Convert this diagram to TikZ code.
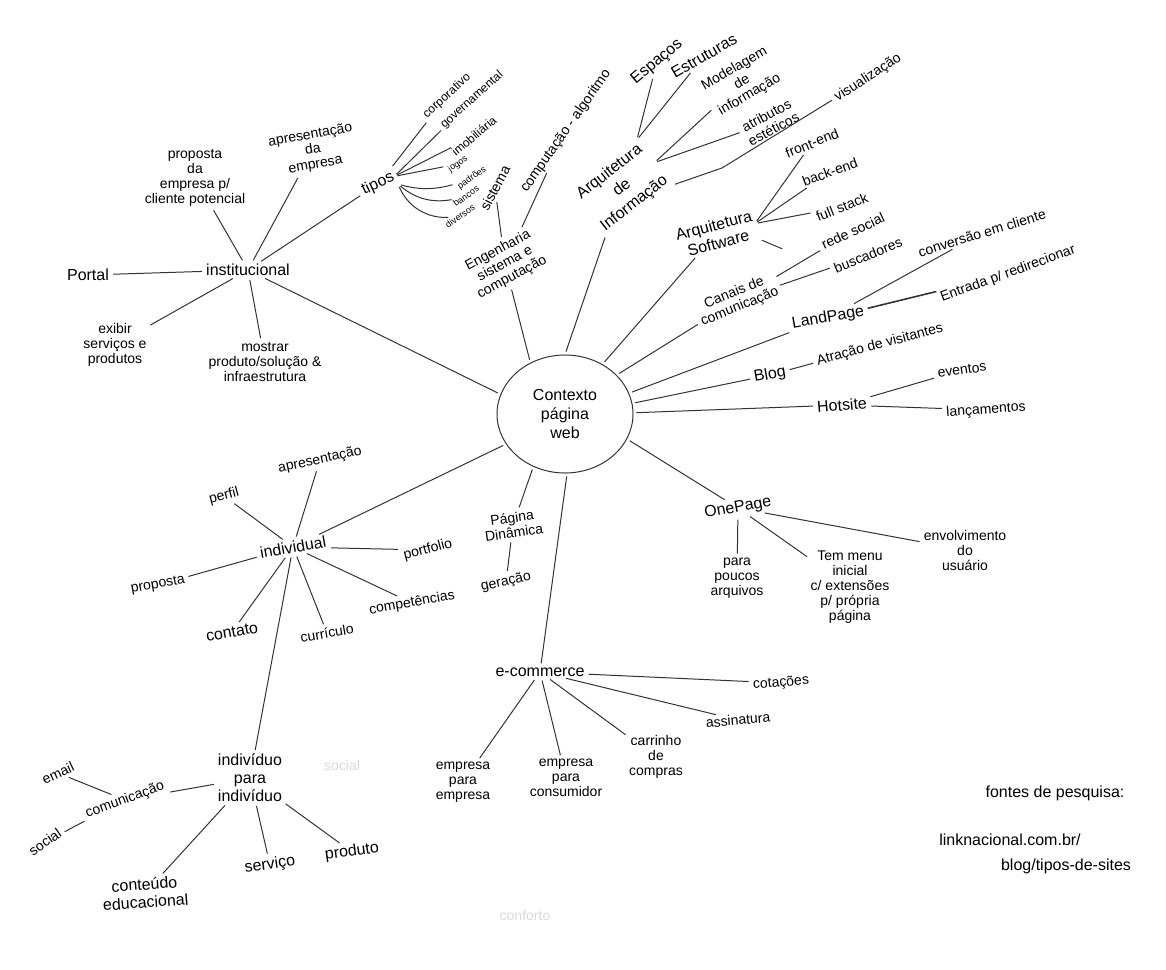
\documentclass[tikz,border=0pt]{standalone}
\usepackage{fontspec}
\setmainfont{Liberation Sans}
\usetikzlibrary{shapes.geometric}

\tikzstyle{centerTopic} = [ellipse, draw=black!80, line width=1pt, minimum width=136pt, minimum height=118pt, align=center, font={\fontsize{16}{19}\selectfont}]
\tikzstyle{topic} = [align=center, inner sep=1pt, font={\fontsize{16}{18}\selectfont}]
\tikzstyle{leaf} = [align=center, inner sep=1pt, font={\fontsize{14}{15}\selectfont}]
\tikzstyle{midLeaf} = [align=center, inner sep=0.5pt, font={\fontsize{12}{13}\selectfont}]
\tikzstyle{tinyLeaf} = [align=center, inner sep=0.5pt, font={\fontsize{9}{10}\selectfont}]
\tikzstyle{erased} = [leaf, text=black!15]
\tikzstyle{handLine} = [draw=black!80, line width=1pt, shorten <=3pt, shorten >=3pt]

\begin{document}
\begin{tikzpicture}[x=1pt,y=-1pt]
\useasboundingbox (0,0) rectangle (1166,969);
            \node[centerTopic] (ctx) at (565,414) {Contexto\\página\\web};
            % institucional
            \node[topic] (inst) at (248,270) {institucional};
            \node[topic] (portal) at (88,275) {Portal};
            \node[leaf] (propEmp) at (195,178) {proposta\\da\\empresa p/\\cliente potencial};
            \node[leaf, rotate=10] (apresEmp) at (313,150) {apresentação\\da\\empresa};
            \node[topic, rotate=25] (tipos) at (378,184) {tipos};
            \node[leaf] (exibir) at (115,345) {exibir\\serviços e\\produtos};
            \node[leaf] (mostrar) at (265,362) {mostrar\\produto/solução \&\\infraestrutura};
            \node[midLeaf, rotate=42] (corp) at (447,96) {corporativo};
            \node[midLeaf, rotate=42] (gov) at (472,100) {governamental};
            \node[midLeaf, rotate=40] (imob) at (474,136) {imobiliária};
            \node[tinyLeaf, rotate=35] (jogos) at (458,164) {jogos};
            \node[tinyLeaf, rotate=35] (padroes) at (472,178) {padrões};
            \node[tinyLeaf, rotate=35] (bancos) at (466,196) {bancos};
            \node[tinyLeaf, rotate=35] (diversos) at (460,216) {diversos};
            % engenharia
            \node[leaf, rotate=28] (eng) at (505,264) {Engenharia\\sistema e\\computação};
            \node[leaf, rotate=62] (sist) at (495,188) {sistema};
            \node[leaf, rotate=55] (compAlg) at (566,131) {computação - algoritmo};
            % arquitetura de informacao
            \node[topic, rotate=38, font={\fontsize{16}{20}\selectfont}] (arqInfo) at (622,188) {Arquitetura\\de\\Informação};
            \node[topic, rotate=40] (espacos) at (657,62) {Espaços};
            \node[topic, rotate=30] (estrut) at (704,56) {Estruturas};
            \node[leaf, rotate=30] (modInfo) at (742,82) {Modelagem\\de\\informação};
            \node[leaf, rotate=28] (atrib) at (770,122) {atributos\\estéticos};
            \node[leaf, rotate=33] (visual) at (868,78) {visualização};
            \coordinate (vBend) at (722,168);
            % arquitetura software
            \node[topic, rotate=15] (arqSw) at (716,234) {Arquitetura\\Software};
            \node[leaf, rotate=22] (front) at (812,143) {front-end};
            \node[leaf, rotate=20] (back) at (830,172) {back-end};
            \node[leaf, rotate=22] (full) at (842,207) {full stack};
            \coordinate (swEnd) at (785,250);
            % comunicacao
            \node[leaf, rotate=22] (canais) at (737,300) {Canais de\\comunicação};
            \node[leaf, rotate=25] (rede) at (853,231) {rede social};
            \node[leaf, rotate=22] (busc) at (868,255) {buscadores};
            % landpage, blog, hotsite
            \node[topic, rotate=10] (land) at (828,318) {LandPage};
            \node[leaf, rotate=17] (conv) at (982,233) {conversão em cliente};
            \node[leaf, rotate=20] (entrada) at (1008,274) {Entrada p/ redirecionar};
            \node[topic, rotate=10] (blog) at (770,375) {Blog};
            \node[leaf, rotate=15] (atracao) at (880,345) {Atração de visitantes};
            \node[topic, rotate=5] (hot) at (842,405) {Hotsite};
            \node[leaf, rotate=8] (eventos) at (962,370) {eventos};
            \node[leaf, rotate=4] (lanc) at (986,410) {lançamentos};
            % onepage
            \node[topic, rotate=10] (one) at (738,508) {OnePage};
            \node[leaf] (poucos) at (737,578) {para\\poucos\\arquivos};
            \node[leaf] (menu) at (850,587) {Tem menu\\inicial\\c/ extensões\\p/ própria\\página};
            \node[leaf] (envolv) at (965,550) {envolvimento\\do\\usuário};
            % e-commerce
            \node[topic] (ecom) at (540,672) {e-commerce};
            \node[leaf] (b2b) at (463,782) {empresa\\para\\empresa};
            \node[leaf] (b2c) at (566,778) {empresa\\para\\consumidor};
            \node[leaf] (carr) at (656,757) {carrinho\\de\\compras};
            \node[leaf, rotate=5] (assin) at (738,720) {assinatura};
            \node[leaf, rotate=5] (cot) at (781,683) {cotações};
            % pagina dinamica
            \node[leaf, rotate=8] (pgDin) at (513,525) {Página\\Dinâmica};
            \node[leaf, rotate=12] (gera) at (506,582) {geração};
            % individual
            \node[topic, rotate=10] (indiv) at (293,547) {individual};
            \node[leaf, rotate=15] (perfil) at (224,496) {perfil};
            \node[leaf, rotate=12] (apres) at (320,460) {apresentação};
            \node[leaf, rotate=10] (prop) at (158,585) {proposta};
            \node[topic, rotate=10] (contato) at (232,632) {contato};
            \node[leaf, rotate=10] (curric) at (327,633) {currículo};
            \node[leaf, rotate=10] (compet) at (412,603) {competências};
            \node[leaf, rotate=15] (portf) at (428,550) {portfolio};
            % individuo para individuo
            \node[topic] (i2i) at (250,778) {indivíduo\\para\\indivíduo};
            \node[leaf, rotate=20] (comun) at (125,800) {comunicação};
            \node[leaf, rotate=25] (email) at (58,773) {email};
            \node[leaf, rotate=35] (social) at (45,842) {social};
            \node[topic, rotate=4] (conteudo) at (145,893) {conteúdo\\educacional};
            \node[topic, rotate=8] (serv) at (270,865) {serviço};
            \node[topic, rotate=8] (prod) at (352,852) {produto};
            \node[erased] (socialOld) at (342,765) {social};
            \node[erased] (confortoOld) at (525,915) {conforto};
            % fontes
            \node[topic] (fontes) at (1055,793) {fontes de pesquisa:};
            \node[topic] (src1) at (1010,840) {linknacional.com.br/};
            \node[topic] (src2) at (1066,866) {blog/tipos-de-sites};

            \draw[handLine] (ctx.163) -- (inst);
            \draw[handLine] (ctx.124) -- (eng);
            \draw[handLine] (ctx.90) -- (arqInfo);
            \draw[handLine] (ctx.53) -- (arqSw);
            \draw[handLine] (ctx.37) -- (canais);
            \draw[handLine] (ctx.18) -- (land);
            \draw[handLine] (ctx.9) -- (blog);
            \draw[handLine] (ctx.1) -- (hot);
            \draw[handLine] (ctx.-22) -- (one);
            \draw[handLine] (ctx.-88) -- (ecom);
            \draw[handLine] (ctx.-121) -- (pgDin);
            \draw[handLine] (ctx.-153) -- (indiv);

            \draw[handLine] (inst) -- (portal);
            \draw[handLine] (inst) -- (propEmp);
            \draw[handLine] (inst) -- (apresEmp);
            \draw[handLine] (inst) -- (tipos);
            \draw[handLine] (inst) -- (exibir);
            \draw[handLine] (inst) -- (mostrar);
            \draw[handLine] (tipos.north east) -- (corp);
            \draw[handLine] (tipos.east) -- (gov);
            \draw[handLine] (tipos.east) -- (imob);
            \draw[handLine] (tipos.east) -- (jogos);
            \draw[handLine] (tipos.south east) to[bend right=15] (padroes);
            \draw[handLine] (tipos.south east) to[bend right=25] (bancos);
            \draw[handLine] (tipos.south east) to[bend right=35] (diversos);

            \draw[handLine] (eng) -- (sist);
            \draw[handLine] (eng) -- (compAlg);

            \draw[handLine] (arqInfo.north east) -- (espacos);
            \draw[handLine] (arqInfo.north east) -- (estrut);
            \draw[handLine] (arqInfo.east) -- (modInfo);
            \draw[handLine] (arqInfo.east) -- (atrib);
            \draw[handLine] (arqInfo.south east) -- (vBend) -- (visual);

            \draw[handLine] (arqSw.east) -- (front);
            \draw[handLine] (arqSw.east) -- (back);
            \draw[handLine] (arqSw.east) -- (full);
            \draw[handLine] (arqSw.south east) -- (swEnd);

            \draw[handLine] (canais) -- (rede);
            \draw[handLine] (canais) -- (busc);
            \draw[handLine] (land) -- (conv);
            \draw[handLine, line width=1.6pt] (land) -- (entrada);
            \draw[handLine] (blog) -- (atracao);
            \draw[handLine] (hot) -- (eventos);
            \draw[handLine] (hot) -- (lanc);

            \draw[handLine] (one) -- (poucos);
            \draw[handLine] (one) -- (menu);
            \draw[handLine] (one) -- (envolv);

            \draw[handLine] (ecom) -- (b2b);
            \draw[handLine] (ecom) -- (b2c);
            \draw[handLine] (ecom) -- (carr);
            \draw[handLine] (ecom) -- (assin);
            \draw[handLine] (ecom) -- (cot);

            \draw[handLine] (pgDin) -- (gera);

            \draw[handLine] (indiv) -- (perfil);
            \draw[handLine] (indiv) -- (apres);
            \draw[handLine] (indiv) -- (prop);
            \draw[handLine] (indiv) -- (contato);
            \draw[handLine] (indiv) -- (curric);
            \draw[handLine] (indiv) -- (compet);
            \draw[handLine] (indiv) -- (portf);
            \draw[handLine] (indiv) -- (i2i);

            \draw[handLine] (i2i) -- (comun);
            \draw[handLine] (i2i) -- (conteudo);
            \draw[handLine] (i2i) -- (serv);
            \draw[handLine] (i2i) -- (prod);
            \draw[handLine] (comun) -- (email);
            \draw[handLine] (comun) -- (social);
        \end{tikzpicture}
\end{document}
